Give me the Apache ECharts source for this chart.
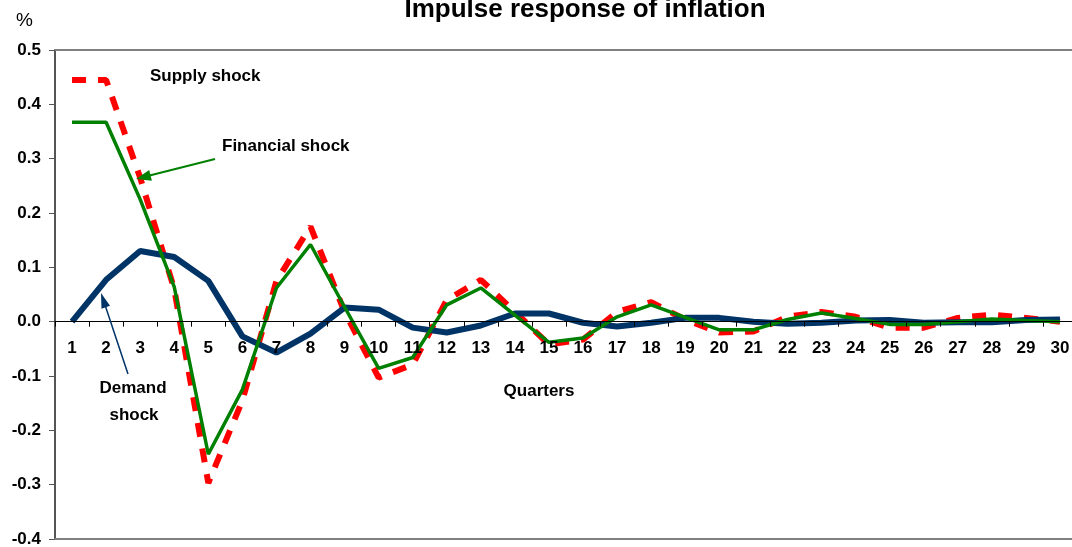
<!DOCTYPE html>
<html>
<head>
<meta charset="utf-8">
<script src="https://cdn.jsdelivr.net/npm/echarts@6/dist/echarts.min.js"></script>
<style>html,body{margin:0;padding:0;background:#fff;}#c{width:1072px;height:547px;}</style>
</head>
<body>
<div id="c"></div>
<script>
var categories = ['1','2','3','4','5','6','7','8','9','10','11','12','13','14','15','16','17','18','19','20','21','22','23','24','25','26','27','28','29','30'];
var supplyShock = [0.445,0.445,0.265,0.06,-0.297,-0.145,0.075,0.175,0.018,-0.103,-0.079,0.04,0.077,0.018,-0.042,-0.033,0.018,0.036,0.004,-0.02,-0.018,0.009,0.018,0.009,-0.011,-0.011,0.007,0.013,0.007,0.0];
var financialShock = [0.367,0.367,0.225,0.064,-0.244,-0.125,0.062,0.142,0.027,-0.086,-0.066,0.031,0.062,0.012,-0.038,-0.03,0.009,0.031,0.008,-0.015,-0.015,0.004,0.016,0.006,-0.005,-0.005,0.0,0.005,0.002,0.0];
var demandShock = [0.0,0.077,0.13,0.119,0.075,-0.027,-0.057,-0.022,0.026,0.022,-0.011,-0.02,-0.007,0.015,0.015,-0.002,-0.009,-0.002,0.007,0.007,0.0,-0.004,-0.002,0.002,0.003,-0.002,-0.001,-0.001,0.003,0.004];
var yTicks = {min: -0.4, max: 0.5, interval: 0.1};

var FONT = 'Liberation Sans, Arial, sans-serif';
var GRID = {left: 55, right: -5, top: 50, bottom: 8};
var H = 547;
var plotH = H - GRID.top - GRID.bottom;
var zeroOffset = -plotH * (0 - yTicks.min) / (yTicks.max - yTicks.min);

function arrow(x1, y1, x2, y2, color, w, hl, hw) {
  var dx = x2 - x1, dy = y2 - y1, L = Math.sqrt(dx*dx + dy*dy);
  var ux = dx / L, uy = dy / L, px = -uy, py = ux;
  var bx = x2 - ux * hl, by = y2 - uy * hl;
  return [
    {type: 'line', shape: {x1: x1, y1: y1, x2: bx + ux*2, y2: by + uy*2}, style: {stroke: color, lineWidth: w}, z: 100},
    {type: 'polygon', shape: {points: [[x2, y2], [bx + px*hw/2, by + py*hw/2], [bx - px*hw/2, by - py*hw/2]]}, style: {fill: color}, z: 100}
  ];
}
function txt(x, y, s, opts) {
  return {type: 'text', x: x, y: y, z: 100, style: Object.assign({text: s, font: 'bold 17px ' + FONT, fill: '#000', align: 'left', verticalAlign: 'middle'}, opts || {})};
}

var chart = echarts.init(document.getElementById('c'), null, {renderer: 'canvas'});
var graphics = [
  txt(585, 9.5, 'Impulse response of inflation', {font: 'bold 26px ' + FONT, align: 'center'}),
  txt(24.5, 21, '%', {font: '19px ' + FONT, align: 'center'}),
  txt(150, 76.5, 'Supply shock'),
  txt(222, 146.5, 'Financial shock'),
  txt(133, 388.5, 'Demand', {align: 'center'}),
  txt(134, 415, 'shock', {align: 'center'}),
  txt(539, 391.5, 'Quarters', {align: 'center'})
].concat(arrow(215, 159, 136, 179, '#008000', 2, 15, 11))
 .concat(arrow(128, 374, 101, 293, '#003366', 1.5, 15, 9));

var borderAxis = function (pos) {
  return {type: 'category', data: categories, position: pos, boundaryGap: true,
    axisLine: {onZero: false, lineStyle: {color: '#808080', width: 2}},
    axisTick: {show: false}, axisLabel: {show: false}, splitLine: {show: false}};
};

chart.setOption({
  animation: false,
  backgroundColor: '#fff',
  grid: Object.assign({show: false, containLabel: false, outerBoundsMode: 'none'}, GRID),
  xAxis: [
    {
      type: 'category', data: categories, boundaryGap: true, position: 'bottom', offset: zeroOffset,
      axisLine: {onZero: false, lineStyle: {color: '#000', width: 1}},
      axisTick: {show: true, length: 5, inside: false, alignWithLabel: false, lineStyle: {color: '#000'}},
      axisLabel: {interval: 0, margin: 18, fontSize: 17, fontWeight: 'bold', color: '#000', fontFamily: FONT},
      splitLine: {show: false}, z: 5
    },
    borderAxis('top'),
    borderAxis('bottom')
  ],
  yAxis: {
    type: 'value', min: yTicks.min, max: yTicks.max, interval: yTicks.interval,
    axisLine: {show: true, lineStyle: {color: '#555', width: 2}},
    axisTick: {show: true, length: 6, lineStyle: {color: '#555'}},
    axisLabel: {margin: 14, fontSize: 17, fontWeight: 'bold', color: '#000', fontFamily: FONT,
      formatter: function (v) { var s = (Math.round(v * 10) / 10).toFixed(1); return s === '-0.0' ? '0.0' : s; }},
    splitLine: {show: false}
  },
  series: [
    {name: 'Supply shock', type: 'line', data: supplyShock, symbol: 'none', z: 2,
      lineStyle: {color: '#FF0000', width: 6, type: [14, 12], cap: 'butt'}},
    {name: 'Demand shock', type: 'line', data: demandShock, symbol: 'none', z: 3,
      lineStyle: {color: '#003366', width: 6}},
    {name: 'Financial shock', type: 'line', data: financialShock, symbol: 'none', z: 4,
      lineStyle: {color: '#008000', width: 3.5}}
  ],
  graphic: graphics
});
</script>
</body>
</html>
